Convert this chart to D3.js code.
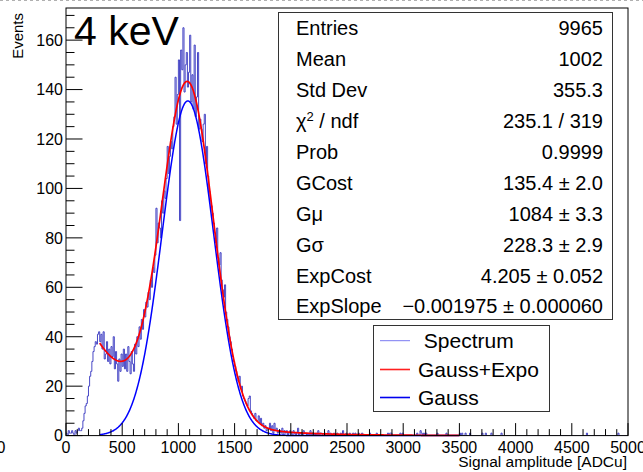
<!DOCTYPE html>
<html>
<head>
<meta charset="utf-8">
<script src="https://cdn.jsdelivr.net/npm/d3@7"></script>
<style>
  body { margin: 0; background: #fff; }
  svg { display: block; }
  text { font-family: "Liberation Sans", Arial, Helvetica, sans-serif; fill: #000; }
</style>
</head>
<body>
<svg id="chart" width="643" height="472"></svg>
<script>
// Histogram: 500 bins of 10 ADCu from 0 to 5000
const binWidth = 10;
const counts = [
  1,0,2,1,1,2,1,0,2,1,
  2,3,2,2,3,6,9,12,13,16,
  20,24,26,30,34,36,38,37,41,42,
  38,41,35,42,31,33,38,30,35,29,
  36,32,40,27,34,29,22,31,26,33,
  28,35,27,33,26,36,30,25,34,29,
  26,37,33,40,36,44,39,47,43,51,
  48,54,52,58,55,63,60,68,66,73,
  92,78,86,84,80,95,90,99,96,104,
  117,106,113,119,116,125,129,145,126,138,
  152,87,156,148,165,139,150,155,141,147,
  162,135,146,132,158,129,137,155,124,128,
  124,119,126,130,110,117,105,99,95,93,
  90,86,82,78,84,72,69,74,63,59,
  56,61,50,47,44,40,38,35,32,30,
  28,26,24,22,24,19,20,16,15,14,
  13,12,15,16,10,9,8,7,9,6,
  6,8,5,7,4,5,3,4,2,3,
  3,5,2,4,1,5,2,3,1,2,
  2,1,3,0,2,1,2,0,1,2,
  1,0,2,1,0,1,3,0,1,1,
  0,2,1,1,0,1,0,2,0,1,
  1,0,1,0,2,0,1,1,0,0,
  1,0,0,2,0,1,0,0,1,0,
  0,1,0,0,1,0,2,0,0,1,
  0,0,1,0,0,1,0,1,0,0,
  1,0,0,1,0,0,0,0,0,0,
  1,0,0,0,0,0,1,0,0,0,
  0,0,0,0,0,0,1,0,1,1,
  0,0,0,0,0,0,0,1,0,1,
  0,0,0,0,0,0,0,0,0,0,
  0,0,1,0,0,2,1,0,1,0,
  1,0,0,0,0,0,0,0,0,0,
  1,0,0,0,0,0,0,0,1,0,
  0,0,0,0,0,0,0,0,0,0,
  1,0,1,0,0,1,0,0,0,1,
  0,0,0,0,0,0,0,0,0,0,
  1,0,0,1,0,0,0,0,1,0,
  0,0,0,0,0,0,0,1,0,0,
  0,0,0,0,0,0,0,0,0,0,
  0,0,0,0,0,0,0,0,0,0,
  0,0,0,0,0,0,0,0,0,0,
  0,0,0,0,0,0,0,0,0,0,
  0,0,0,0,0,0,0,0,0,0,
  0,0,0,0,0,0,0,0,0,0,
  0,0,0,0,0,0,0,0,0,0,
  0,0,0,1,0,0,0,0,0,0,
  0,0,0,0,0,0,0,0,0,0,
  0,0,0,0,0,0,0,0,0,0,
  0,1,0,0,0,0,0,0,0,0
];

// Fit result (Gauss + exponential) and its range
const gaussConst = 135.4;
const gaussMean = 1084;
const gaussSigma = 228.3;
const expConst = 4.205;
const expSlope = -0.001975;
const fitRange = [300, 3500];

// Axes
const xDomain = [0, 5000];
const yDomain = [0, 173];
const xTickValues = [0, 500, 1000, 1500, 2000, 2500, 3000, 3500, 4000, 4500, 5000];
const yTickValues = [0, 20, 40, 60, 80, 100, 120, 140, 160];
const xTitle = "Signal amplitude [ADCu]";
const yTitle = "Events";
const plotLabel = "4 keV";

// Statistics box
const statLabels = ["Entries", "Mean", "Std Dev", "χ2 / ndf", "Prob", "GCost", "Gμ", "Gσ", "ExpCost", "ExpSlope"];
const statValues = ["9965", "1002", "355.3", "235.1 / 319", "0.9999", "135.4 ± 2.0", "1084 ± 3.3", "228.3 ± 2.9", "4.205 ± 0.052", "−0.001975 ± 0.000060"];

// Legend
const legendLabels = [" Spectrum", "Gauss+Expo", "Gauss"];
const legendColors = ["#7a7af2", "#ff2020", "#0000ee"];

const svg = d3.select("#chart");
const frame = { left: 66, right: 628, top: 8, bottom: 435.6 };

const x = d3.scaleLinear().domain(xDomain).range([frame.left, frame.right]);
const y = d3.scaleLinear().domain(yDomain).range([frame.bottom, frame.top]);

// faint edge of the neighbouring pad at the very top
svg.append("line")
  .attr("x1", 0).attr("x2", 643).attr("y1", 0.5).attr("y2", 0.5)
  .attr("stroke", "#b0b0b0").attr("stroke-dasharray", "3,3");

const plot = svg.append("g");
const clipId = "plotclip";
svg.append("clipPath").attr("id", clipId).append("rect")
  .attr("x", frame.left).attr("y", frame.top)
  .attr("width", frame.right - frame.left).attr("height", frame.bottom - frame.top);

// Histogram as a step line
const histPts = counts.map((c, i) => [i * binWidth, c]);
histPts.push([counts.length * binWidth, counts[counts.length - 1]]);
const stepLine = d3.line().x(d => x(d[0])).y(d => y(d[1])).curve(d3.curveStepAfter);
plot.append("path")
  .attr("clip-path", `url(#${clipId})`)
  .attr("d", stepLine(histPts))
  .attr("fill", "none")
  .attr("stroke", "#3434c0")
  .attr("stroke-opacity", 0.9)
  .attr("stroke-width", 1);

// Fit functions
const gauss = v => gaussConst * Math.exp(-0.5 * Math.pow((v - gaussMean) / gaussSigma, 2));
const expo = v => Math.exp(expConst + expSlope * v);
const sampleX = d3.range(fitRange[0], fitRange[1] + 1, 4);
const curve = d3.line().x(d => x(d[0])).y(d => y(d[1])).curve(d3.curveLinear);

plot.append("path")
  .attr("d", curve(sampleX.map(v => [v, gauss(v)])))
  .attr("fill", "none").attr("stroke", "#0000ff").attr("stroke-width", 1.5);

plot.append("path")
  .attr("d", curve(sampleX.map(v => [v, gauss(v) + expo(v)])))
  .attr("fill", "none").attr("stroke", "#ff0000").attr("stroke-width", 1.7);

// Frame
svg.append("rect")
  .attr("x", frame.left).attr("y", frame.top)
  .attr("width", frame.right - frame.left).attr("height", frame.bottom - frame.top)
  .attr("fill", "none").attr("stroke", "#000").attr("stroke-width", 1);

// X axis ticks (inside, pointing up) and labels
const xAxis = svg.append("g");
const xMinor = d3.range(xDomain[0], xDomain[1] + 1, 100);
xAxis.selectAll("line.minor").data(xMinor).join("line")
  .attr("x1", d => x(d)).attr("x2", d => x(d))
  .attr("y1", frame.bottom).attr("y2", d => frame.bottom - (d % 500 === 0 ? 12.5 : 6.5))
  .attr("stroke", "#000").attr("stroke-width", 1);
xAxis.selectAll("text").data(xTickValues).join("text")
  .attr("x", d => x(d)).attr("y", 452.5)
  .attr("text-anchor", "middle").attr("font-size", 16)
  .text(d => d);
// label of the neighbouring pad's last tick, cut at the left edge
svg.append("text").attr("x", 5.5).attr("y", 452.5).attr("text-anchor", "end")
  .attr("font-size", 16).text("5000");

// Y axis ticks (inside, pointing right) and labels
const yAxis = svg.append("g");
const yMinor = d3.range(0, yDomain[1], 5);
yAxis.selectAll("line").data(yMinor).join("line")
  .attr("x1", frame.left).attr("x2", d => frame.left + (d % 20 === 0 ? 16.5 : 8.5))
  .attr("y1", d => y(d)).attr("y2", d => y(d))
  .attr("stroke", "#000").attr("stroke-width", 1);
yAxis.selectAll("text").data(yTickValues).join("text")
  .attr("x", 63).attr("y", d => y(d) + 5.8)
  .attr("text-anchor", "end").attr("font-size", 16)
  .text(d => d);

// Axis titles
svg.append("text")
  .attr("x", 627).attr("y", 467).attr("text-anchor", "end")
  .attr("font-size", 15.5).text(xTitle);
svg.append("text")
  .attr("transform", "translate(23,13) rotate(-90)")
  .attr("text-anchor", "end").attr("font-size", 15).text(yTitle);

// Big label
svg.append("text").attr("x", 74).attr("y", 45).attr("font-size", 41).text(plotLabel);

// Statistics box
const stat = svg.append("g");
stat.append("rect").attr("x", 278.5).attr("y", 12.5).attr("width", 334).attr("height", 307)
  .attr("fill", "#fff").attr("stroke", "#333").attr("stroke-width", 1);
const rowY = i => 28.3 + i * 30.9;
statLabels.forEach((lab, i) => {
  const t = stat.append("text").attr("x", 296).attr("y", rowY(i) + 7).attr("font-size", 20);
  if (lab.startsWith("χ2")) {
    t.append("tspan").text("χ");
    t.append("tspan").attr("dy", -7).attr("font-size", 13).text("2");
    t.append("tspan").attr("dy", 7).text(" / ndf");
  } else {
    t.text(lab);
  }
  stat.append("text").attr("x", 603).attr("y", rowY(i) + 7)
    .attr("text-anchor", "end").attr("font-size", 20)
    .text(statValues[i]);
});

// Legend
const leg = svg.append("g");
leg.append("rect").attr("x", 373.5).attr("y", 325.5).attr("width", 176).attr("height", 86)
  .attr("fill", "#fff").attr("stroke", "#333").attr("stroke-width", 1);
const legY = [340.7, 369.5, 397.5];
legendLabels.forEach((lab, i) => {
  leg.append("line").attr("x1", 380).attr("x2", 410).attr("y1", legY[i]).attr("y2", legY[i])
    .attr("stroke", legendColors[i]).attr("stroke-width", i === 0 ? 1 : 1.6);
  leg.append("text").attr("x", 418).attr("y", legY[i] + 7.5).attr("font-size", 21)
    .style("white-space", "pre").text(lab);
});
</script>
</body>
</html>
